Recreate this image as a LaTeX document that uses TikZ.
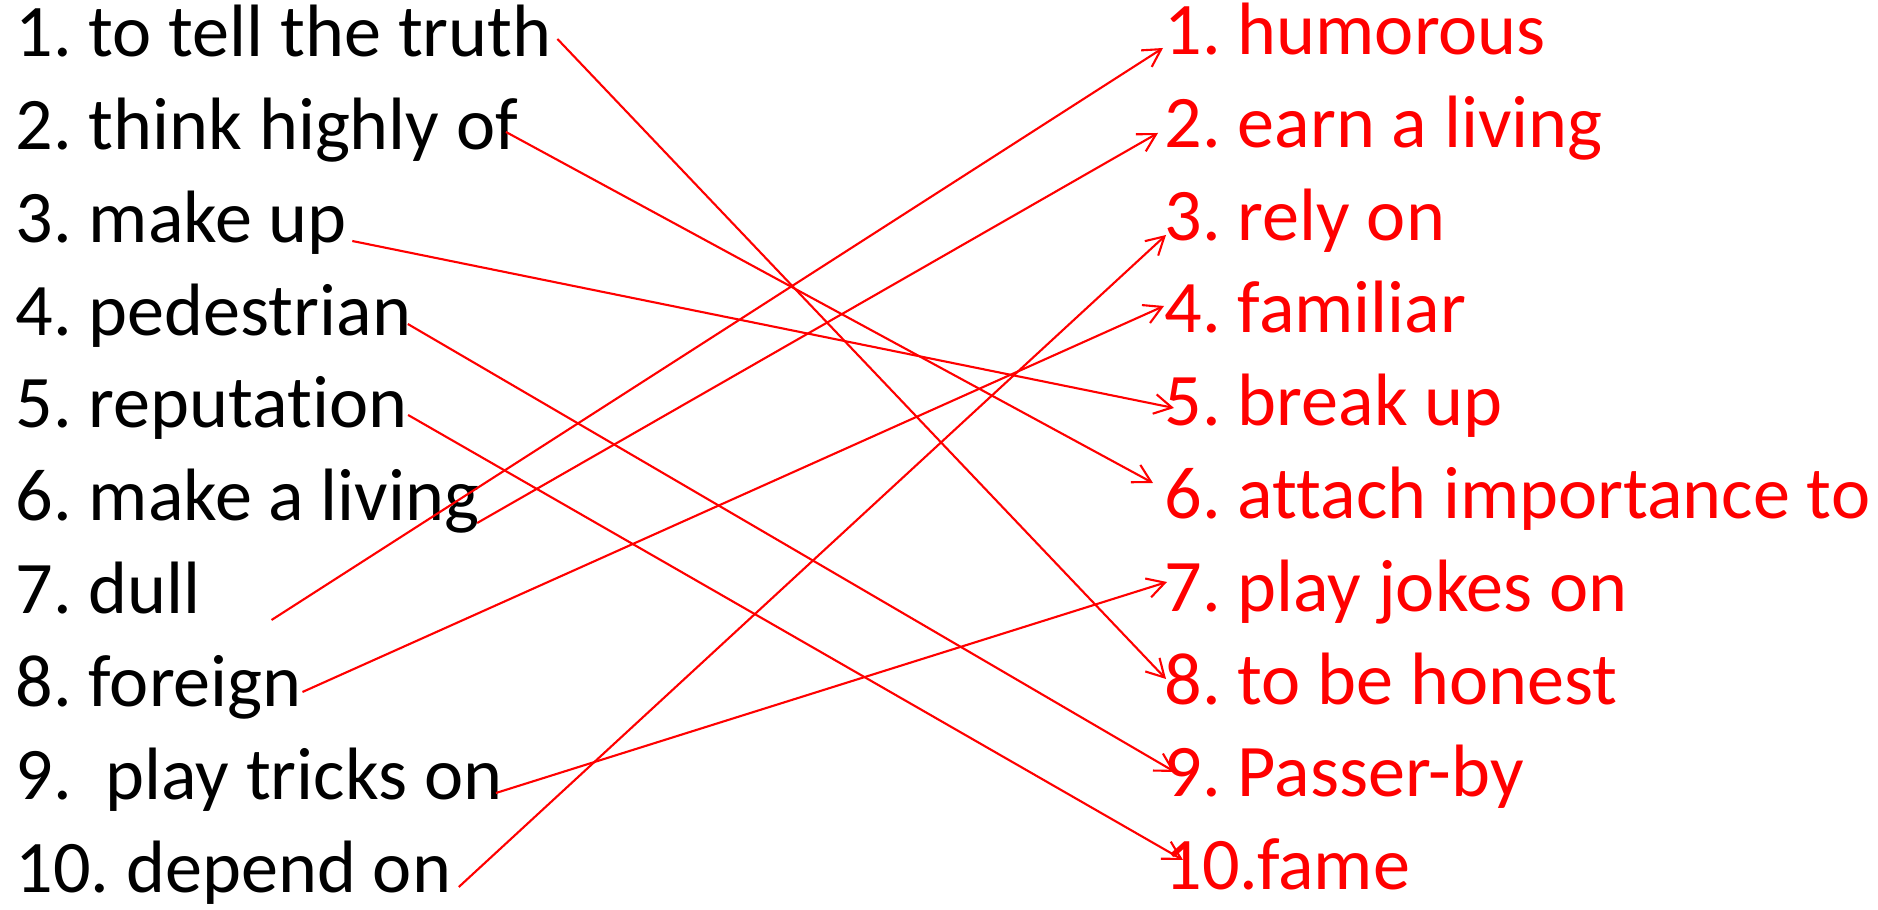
\documentclass[tikz,border=0pt]{standalone}
\usepackage{fontspec}
\setmainfont{Carlito}[Ligatures=NoCommon]
\usepackage{tikz}
\usetikzlibrary{arrows.meta}
\frenchspacing

\begin{document}
\begin{tikzpicture}[
  x=0.01cm, y=-0.01cm,
  font=\fontsize{21.1}{25}\selectfont,
  word/.style={anchor=base west, inner sep=0pt, text=black},
  ans/.style={anchor=base west, inner sep=0pt, text=red},
  arr/.style={-{Straight Barb[length=5pt,width=5.6pt]}, red, line width=0.6pt}
]
\useasboundingbox (0,0) rectangle (1878,910);
% phrases on the left
\node[word] (l1) at (15,57) {1. to tell the truth};
\node[word] (l2) at (15,150) {2. think highly of};
\node[word] (l3) at (15,243) {3. make up};
\node[word] (l4) at (15,336) {4. pedestrian};
\node[word] (l5) at (15,428) {5. reputation};
\node[word] (l6) at (15,521) {6. make a living};
\node[word] (l7) at (15,614) {7. dull};
\node[word] (l8) at (15,707) {8. foreign};
\node[word] (l9) at (15,800) {9.~ play tricks on};
\node[word] (l10) at (15,893) {10. depend on};
% matching phrases on the right
\node[ans] (r1) at (1164,55) {1. humorous};
\node[ans] (r2) at (1164,148) {2. earn a living};
\node[ans] (r3) at (1164,241) {3. rely on};
\node[ans] (r4) at (1164,333) {4. familiar};
\node[ans] (r5) at (1164,426) {5. break up};
\node[ans] (r6) at (1164,519) {6. attach importance to};
\node[ans] (r7) at (1164,612) {7. play jokes on};
\node[ans] (r8) at (1164,705) {8. to be honest};
\node[ans] (r9) at (1164,797) {9. Passer-by};
\node[ans] (r10) at (1164,890) {10.fame};
\draw[arr] ([shift={(5,-18)}]l1.base east) -- ([shift={(2,-26)}]r8.base west);
\draw[arr] ([shift={(-13,-18)}]l2.base east) -- ([shift={(-11,-36)}]r6.base west);
\draw[arr] ([shift={(5,-2)}]l3.base east) -- ([shift={(10,-18)}]r5.base west);
\draw[arr] ([shift={(-4,-12)}]l4.base east) -- ([shift={(11,-25)}]r9.base west);
\draw[arr] ([shift={(0,-13)}]l5.base east) -- ([shift={(19,-30)}]r10.base west);
\draw[arr] ([shift={(-3,2)}]l6.base east) -- ([shift={(-6,-15)}]r2.base west);
\draw[arr] ([shift={(70,6)}]l7.base east) -- ([shift={(-1,-7)}]r1.base west);
\draw[arr] ([shift={(0,-15)}]l8.base east) -- ([shift={(0,-27)}]r4.base west);
\draw[arr] ([shift={(-7,-7)}]l9.base east) -- ([shift={(3,-30)}]r7.base west);
\draw[arr] ([shift={(7,-6)}]l10.base east) -- ([shift={(2,-6)}]r3.base west);
\end{tikzpicture}
\end{document}
